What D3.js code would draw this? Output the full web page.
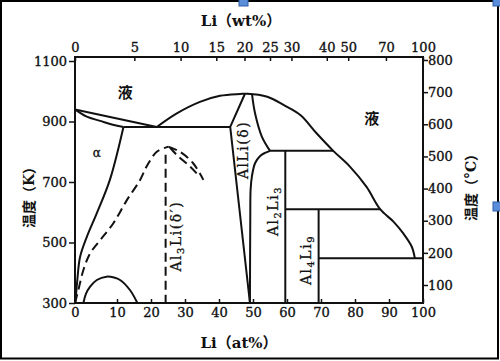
<!DOCTYPE html>
<meta charset="utf-8">
<script src="https://cdnjs.cloudflare.com/ajax/libs/d3/7.8.5/d3.min.js"></script>
<style>

body {
  margin: 0;
  background: #fff;
}

text {
  font-family: "DejaVu Serif", serif;
  fill: #111;
}

.axis text {
  font-size: 13px;
  stroke: #111;
  stroke-width: 0.35px;
}

.axis line {
  stroke: #111;
  stroke-width: 1.5px;
}

.phase {
  fill: none;
  stroke: #111;
  stroke-width: 2px;
  stroke-linejoin: round;
}

.dash {
  stroke-dasharray: 9, 5;
}

.cjk {
  font-family: "DejaVu Serif", "Noto Sans CJK SC", serif;
  font-weight: bold;
}

.phase-label {
  font-size: 14px;
  letter-spacing: 1.5px;
  stroke: #111;
  stroke-width: 0.3px;
}

</style>
<body>
<script>

// Axis ticks.
var atTicks = [0, 10, 20, 30, 40, 50, 60, 70, 80, 90, 100];
var wtTicks = [0, 5, 10, 15, 20, 25, 30, 40, 50, 70, 100];
// at% lying under each wt% tick
var wtAtPos = [0, 15.1, 28.7, 39.2, 47.5, 55.0, 61.3, 71.7, 78.0, 89.1, 100];
var kTicks = [300, 500, 700, 900, 1100];
var cTicks = [100, 200, 300, 400, 500, 600, 700, 800];

// Phase boundaries, [at% Li, K].
var liquidusAl = [[0, 940], [21.7, 882]];
var solidusAl = [[0, 940], [2.8, 916], [6, 902], [9, 889], [11.9, 882]];
var solvusAl = [[11.9, 882], [8.3, 707], [5.2, 597], [2.8, 518], [1.2, 452], [0.55, 376], [0.12, 310], [0, 300]];
var dome = [[2, 300], [2.6, 330], [3.6, 354], [5.2, 376], [7.5, 387], [9.3, 384], [10.9, 376], [13.8, 343], [16, 300]];
var liquidus = [[21.7, 882], [27.6, 927], [34.4, 965], [40.3, 985], [46.2, 991], [48.3, 992], [54.2, 982],
  [59.1, 954], [64, 921], [68.7, 861], [73.6, 803], [78.5, 751], [83.4, 684], [87.4, 610],
  [91.3, 569], [94.2, 530], [96.7, 486], [97.6, 448]];
var alliLeft = [[47.6, 991], [43.3, 882], [49.1, 300]];
var alliRight = [[49.7, 991], [50.6, 927], [52.6, 850], [55, 803]];
var al2li3Edge = [[55, 803], [53.5, 796], [52.1, 786], [50.6, 762], [49.7, 720], [49.3, 675], [49.2, 580], [49.1, 300]];

// Metastable delta' solvus (dashed).
var deltaLeft = [[0, 300], [0.8, 343], [2, 409], [3.6, 464], [6, 508], [9.1, 563], [12.9, 640],
  [16.8, 707], [18.7, 751], [21.7, 800], [25.1, 817]];
var deltaRight = [[25.1, 817], [28.5, 800], [32.4, 762], [35.4, 707]];
var deltaRight2 = [[25.6, 814], [27.6, 789], [31.5, 751], [33.9, 723]];
var deltaLine = [[24.3, 790], [24.3, 300]];

// Horizontal invariants [from at%, to at%, K] and line compounds [at%, top K].
var tieLines = [[11.9, 43.3, 882], [55, 73.6, 803], [59.5, 87.4, 610], [69.3, 100, 448]];
var compounds = [[59.5, 803], [69.3, 610]];

var width = 500,
    height = 361;

var svg = d3.select("body").append("svg")
    .attr("width", width)
    .attr("height", height);

// The drawing's 0-10 at% step is wider than the rest.
var x = d3.scaleLinear().domain([0, 10, 100]).range([75, 117, 423]);
var y = d3.scaleLinear().domain([300, 1100]).range([303, 61]);
var yC = d3.scaleLinear().domain([100, 800]).range([285, 60]);
var xWt = d3.scaleLinear().domain(wtTicks).range(wtAtPos.map(x));

var fmt = d3.format("d");

// Picture border.
svg.append("rect")
    .attr("x", 1).attr("y", 1)
    .attr("width", 497).attr("height", 357.5)
    .attr("fill", "none").attr("stroke", "#000").attr("stroke-width", 2);

// Axes.
function noDomain(g) { g.select(".domain").remove(); }

svg.append("g").attr("class", "axis")
    .attr("transform", "translate(0,303)")
    .call(d3.axisBottom(x).tickValues(atTicks).tickFormat(fmt).tickSizeInner(-4).tickSizeOuter(0).tickPadding(5))
    .call(noDomain);

svg.append("g").attr("class", "axis")
    .attr("transform", "translate(0,57)")
    .call(d3.axisTop(xWt).tickValues(wtTicks).tickFormat(fmt).tickSizeInner(-4).tickSizeOuter(0).tickPadding(5))
    .call(noDomain);

svg.append("g").attr("class", "axis")
    .attr("transform", "translate(75,0)")
    .call(d3.axisLeft(y).tickValues(kTicks).tickFormat(fmt).tickSize(6).tickPadding(2))
    .call(noDomain);

svg.append("g").attr("class", "axis")
    .attr("transform", "translate(423,0)")
    .call(d3.axisRight(yC).tickValues(cTicks).tickFormat(fmt).tickSize(5).tickPadding(0))
    .call(noDomain);

svg.append("rect")
    .attr("x", x(0)).attr("y", 57)
    .attr("width", x(100) - x(0)).attr("height", 303 - 57)
    .attr("fill", "none").attr("stroke", "#111").attr("stroke-width", 2);

// Axis titles.
svg.append("text").attr("class", "cjk")
    .attr("x", 241).attr("y", 26)
    .attr("text-anchor", "middle").attr("font-size", 15)
    .text("Li（wt%）");

svg.append("text").attr("class", "cjk")
    .attr("x", 239).attr("y", 348)
    .attr("text-anchor", "middle").attr("font-size", 15)
    .text("Li（at%）");

svg.append("text").attr("class", "cjk")
    .attr("transform", "translate(34,194) rotate(-90)")
    .attr("text-anchor", "middle").attr("font-size", 14)
    .text("温度（K）");

svg.append("text").attr("class", "cjk")
    .attr("transform", "translate(476,184) rotate(-90)")
    .attr("text-anchor", "middle").attr("font-size", 14)
    .text("温度（°C）");

// Phase boundaries.
var smooth = d3.line()
    .x(function(d) { return x(d[0]); })
    .y(function(d) { return y(d[1]); })
    .curve(d3.curveCatmullRom.alpha(0.5));

var straight = d3.line()
    .x(function(d) { return x(d[0]); })
    .y(function(d) { return y(d[1]); });

[solidusAl, solvusAl, dome, liquidus, alliRight, al2li3Edge].forEach(function(d) {
  svg.append("path").attr("class", "phase").attr("d", smooth(d));
});

[liquidusAl, alliLeft].forEach(function(d) {
  svg.append("path").attr("class", "phase").attr("d", straight(d));
});

svg.selectAll(".tie")
    .data(tieLines)
  .enter().append("path")
    .attr("class", "phase tie")
    .attr("d", function(d) { return straight([[d[0], d[2]], [d[1], d[2]]]); });

svg.selectAll(".compound")
    .data(compounds)
  .enter().append("path")
    .attr("class", "phase compound")
    .attr("d", function(d) { return straight([[d[0], d[1]], [d[0], 300]]); });

[deltaLeft, deltaRight, deltaRight2].forEach(function(d) {
  svg.append("path").attr("class", "phase dash").attr("d", smooth(d));
});
svg.append("path").attr("class", "phase dash").attr("d", straight(deltaLine));

// Region labels.
svg.append("text").attr("class", "cjk")
    .attr("x", x(12.4)).attr("y", y(994))
    .attr("text-anchor", "middle").attr("dy", "0.35em").attr("font-size", 15)
    .text("液");

svg.append("text").attr("class", "cjk")
    .attr("x", x(84.9)).attr("y", y(908))
    .attr("text-anchor", "middle").attr("dy", "0.35em").attr("font-size", 15)
    .text("液");

svg.append("text")
    .attr("x", x(5.2)).attr("y", y(796))
    .attr("text-anchor", "middle").attr("dy", "0.3em").attr("font-size", 12)
    .attr("stroke", "#111").attr("stroke-width", 0.3)
    .text("α");

function phaseLabel(at, t, parts) {
  var txt = svg.append("text").attr("class", "phase-label")
      .attr("transform", "translate(" + x(at) + "," + y(t) + ") rotate(-90)")
      .attr("text-anchor", "middle")
      .attr("dy", "0.35em");
  parts.forEach(function(p) {
    var ts = txt.append("tspan").text(p[0]);
    if (p[1]) ts.attr("font-size", 10).attr("baseline-shift", "-25%");
  });
}

phaseLabel(47.2, 806, [["AlLi(δ)"]]);
phaseLabel(27.3, 521, [["Al"], ["3", 1], ["Li(δ′)"]]);
phaseLabel(55.9, 604, [["Al"], ["2", 1], ["Li"], ["3", 1]]);
phaseLabel(65.6, 442, [["Al"], ["4", 1], ["Li"], ["9", 1]]);

// Selection handles left on the picture.
var handles = [[239, -3], [493, -3], [493, 202]];
svg.selectAll(".handle")
    .data(handles)
  .enter().append("rect")
    .attr("class", "handle")
    .attr("x", function(d) { return d[0]; })
    .attr("y", function(d) { return d[1]; })
    .attr("width", 9).attr("height", 9)
    .attr("fill", "#5b8ed8").attr("stroke", "#2f5fa8").attr("stroke-width", 1);

</script>
